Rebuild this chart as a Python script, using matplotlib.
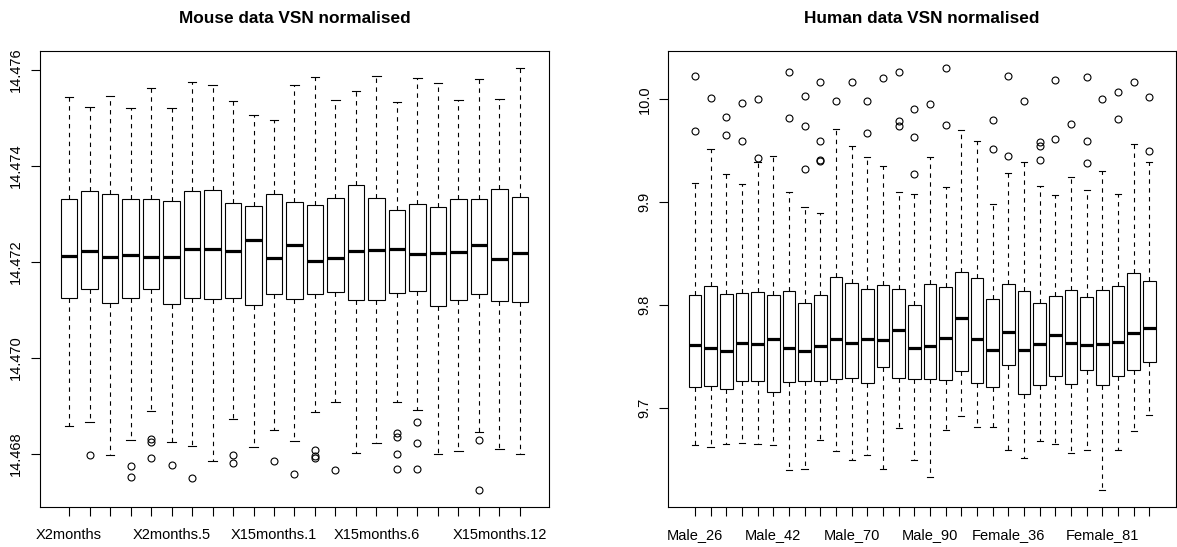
import matplotlib
matplotlib.use("Agg")
import matplotlib.pyplot as plt
import numpy as np

plt.rcParams['font.family'] = ['Liberation Sans', 'DejaVu Sans']

# ---------------- Mouse data (23 samples) ----------------
mouse_names = (["X2months"] + [f"X2months.{i}" for i in range(1, 9)] +
               ["X15months"] + [f"X15months.{i}" for i in range(1, 14)])
mouse_shown = ["X2months", "X2months.5", "X15months.1", "X15months.6", "X15months.12"]

mouse_whislo = [14.46858, 14.46865, 14.46797, 14.46828, 14.46888, 14.46824, 14.46815, 14.46784,
                14.46871, 14.46814, 14.46849, 14.46827, 14.46886, 14.46907, 14.46802, 14.46821,
                14.46907, 14.46891, 14.46799, 14.46805, 14.46845, 14.46810, 14.46798]
mouse_q1 = [14.47125, 14.47144, 14.47115, 14.47125, 14.47144, 14.47112, 14.47124, 14.47122,
            14.47124, 14.47110, 14.47132, 14.47122, 14.47133, 14.47137, 14.47121, 14.47121,
            14.47135, 14.47139, 14.47107, 14.47121, 14.47132, 14.47119, 14.47117]
mouse_med = [14.47213, 14.47222, 14.47210, 14.47215, 14.47209, 14.47209, 14.47227, 14.47226,
             14.47223, 14.47245, 14.47208, 14.47236, 14.47201, 14.47207, 14.47222, 14.47225,
             14.47227, 14.47217, 14.47219, 14.47221, 14.47236, 14.47206, 14.47218]
mouse_q3 = [14.47332, 14.47348, 14.47342, 14.47332, 14.47332, 14.47326, 14.47347, 14.47350,
            14.47323, 14.47317, 14.47341, 14.47324, 14.47318, 14.47334, 14.47360, 14.47333,
            14.47309, 14.47321, 14.47315, 14.47332, 14.47332, 14.47351, 14.47336]
mouse_whishi = [14.47544, 14.47524, 14.47545, 14.47521, 14.47562, 14.47521, 14.47576, 14.47568,
                14.47535, 14.47507, 14.47496, 14.47568, 14.47585, 14.47538, 14.47557, 14.47587,
                14.47533, 14.47583, 14.47574, 14.47537, 14.47581, 14.47539, 14.47604]
mouse_fliers = [
    [], [14.46797], [], [14.46773, 14.46750], [14.46831, 14.46825, 14.46790],
    [14.46776], [14.46749], [], [14.46797, 14.46781], [],
    [14.46785], [14.46757], [14.46807, 14.46795, 14.46790], [14.46766], [],
    [], [14.46842, 14.46835, 14.46800, 14.46768], [14.46865, 14.46822, 14.46768], [], [],
    [14.46828, 14.46723], [], [],
]

# ---------------- Human data (30 samples) ----------------
human_labels = ["Male_26", "", "", "", "", "Male_42", "", "", "", "", "Male_70", "", "", "", "",
                "Male_90", "", "", "", "", "Female_36", "", "", "", "", "", "Female_81", "", "", ""]

human_whislo = [9.6640, 9.6624, 9.6650, 9.6659, 9.6647, 9.6640, 9.6394, 9.6410, 9.6686, 9.6579,
                9.6491, 9.6543, 9.6406, 9.6805, 9.6491, 9.6326, 9.6783, 9.6922, 9.6815, 9.6815,
                9.6588, 9.6511, 9.6676, 9.6654, 9.6566, 9.6588, 9.6199, 9.6588, 9.6773, 9.6929]
human_q1 = [9.7208, 9.7214, 9.7182, 9.7266, 9.7266, 9.7159, 9.7257, 9.7260, 9.7266, 9.7286,
            9.7296, 9.7240, 9.7396, 9.7292, 9.7282, 9.7282, 9.7269, 9.7364, 9.7240, 9.7208,
            9.7415, 9.7140, 9.7221, 9.7308, 9.7233, 9.7367, 9.7224, 9.7308, 9.7373, 9.7444]
human_med = [9.7613, 9.7584, 9.7558, 9.7629, 9.7620, 9.7675, 9.7581, 9.7558, 9.7603, 9.7675,
             9.7636, 9.7675, 9.7656, 9.7759, 9.7584, 9.7607, 9.7681, 9.7872, 9.7675, 9.7568,
             9.7736, 9.7568, 9.7617, 9.7710, 9.7632, 9.7610, 9.7626, 9.7646, 9.7724, 9.7775]
human_q3 = [9.8099, 9.8187, 9.8106, 9.8116, 9.8125, 9.8099, 9.8132, 9.8021, 9.8099, 9.8271,
            9.8218, 9.8153, 9.8196, 9.8161, 9.8002, 9.8203, 9.8174, 9.8323, 9.8262, 9.8057,
            9.8200, 9.8138, 9.8025, 9.8093, 9.8148, 9.8080, 9.8148, 9.8181, 9.8313, 9.8230]
human_whishi = [9.9189, 9.9519, 9.9273, 9.9179, 9.9393, 9.9451, 9.9095, 9.8955, 9.8891, 9.9708,
                9.9549, 9.9436, 9.9351, 9.9101, 9.9076, 9.9442, 9.9147, 9.9704, 9.9597, 9.8981,
                9.9280, 9.9387, 9.9154, 9.9072, 9.9241, 9.9121, 9.9300, 9.9082, 9.9568, 9.9393]
human_fliers = [
    [10.0230, 9.9695], [10.0010], [9.9828, 9.9656], [9.9964, 9.9591], [10.0003, 9.9432],
    [], [10.0263, 9.9815], [10.0035, 9.9743, 9.9325], [10.0171, 9.9591, 9.9412, 9.9397], [9.9981],
    [10.0171], [9.9986, 9.9669], [10.0207], [10.0268, 9.9789, 9.9743], [9.9906, 9.9630, 9.9273],
    [9.9957], [10.0302, 9.9750], [], [], [9.9799, 9.9517],
    [10.0224, 9.9451], [9.9981], [9.9585, 9.9549, 9.9412], [10.0185, 9.9614], [9.9760],
    [10.0217, 9.9597, 9.9383], [10.0000], [10.0071, 9.9811], [10.0168], [10.0019, 9.9494],
]


def make_stats(lo, q1, med, q3, hi, fl):
    return [dict(whislo=a, q1=b, med=c, q3=d, whishi=e, fliers=np.array(f))
            for a, b, c, d, e, f in zip(lo, q1, med, q3, hi, fl)]


def draw(ax, stats, labels, title, yticks, yfmt):
    n = len(stats)
    ax.bxp(stats, positions=np.arange(1, n + 1), widths=0.8, patch_artist=True,
           boxprops=dict(facecolor='white', edgecolor='black', linewidth=0.8),
           whiskerprops=dict(color='black', linewidth=0.8, linestyle=(0, (4, 4))),
           capprops=dict(color='black', linewidth=0.8),
           medianprops=dict(color='black', linewidth=2.3, solid_capstyle='butt'),
           flierprops=dict(marker='o', markerfacecolor='none', markeredgecolor='black',
                           markersize=5.0, markeredgewidth=0.8, linestyle='none'),
           capwidths=0.4)
    ax.set_xlim(0.5 - 0.04 * n, n + 0.5 + 0.04 * n)
    allv = []
    for s in stats:
        allv += [s['whislo'], s['whishi']] + list(s['fliers'])
    lo, hi = min(allv), max(allv)
    r = hi - lo
    ax.set_ylim(lo - 0.04 * r, hi + 0.04 * r)
    ax.set_xticks(np.arange(1, n + 1))
    ax.set_xticklabels(labels, fontsize=10.5)
    ax.set_yticks(yticks)
    ax.set_yticklabels([yfmt.format(v) for v in yticks], rotation=90, va='center', fontsize=10.5)
    ax.tick_params(axis='x', length=6.5, width=0.8, pad=8.5)
    ax.tick_params(axis='y', length=6.5, width=0.8, pad=5.5)
    for sp in ax.spines.values():
        sp.set_linewidth(0.8)
    ax.set_title(title, fontsize=12.4, fontweight='bold', pad=20.6)


W, H = 1177, 547
fig = plt.figure(figsize=(W / 100, H / 100), dpi=100)
ax1 = fig.add_axes([40 / W, (H - 507.3) / H, 509 / W, 456 / H])
ax2 = fig.add_axes([668.3 / W, (H - 507.3) / H, 507.7 / W, 456 / H])

mouse_labels = [nm if nm in mouse_shown else "" for nm in mouse_names]
draw(ax1, make_stats(mouse_whislo, mouse_q1, mouse_med, mouse_q3, mouse_whishi, mouse_fliers),
     mouse_labels, "Mouse data VSN normalised",
     [14.468, 14.470, 14.472, 14.474, 14.476], "{:.3f}")
draw(ax2, make_stats(human_whislo, human_q1, human_med, human_q3, human_whishi, human_fliers),
     human_labels, "Human data VSN normalised",
     [9.7, 9.8, 9.9, 10.0], "{:.1f}")

fig.savefig("out.png", dpi=100)
